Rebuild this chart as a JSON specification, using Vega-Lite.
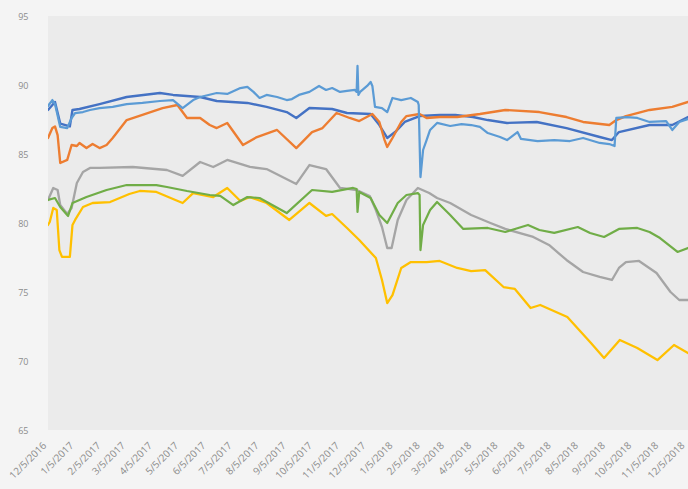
{
  "$schema": "https://vega.github.io/schema/vega-lite/v6.json",
  "width": 640,
  "height": 414,
  "autosize": {"type": "none"},
  "padding": {"left": 48, "top": 16, "right": 0, "bottom": 59},
  "background": "#f4f4f4",
  "config": {
    "view": {"stroke": null, "fill": "#ebebeb"},
    "axis": {"labelFont": "Open Sans", "labelFontSize": 9, "labelColor": "#8c8c8c", "grid": false, "domain": false, "ticks": false, "title": null}
  },
  "data": {"values": [
    {"s":"Series1","d":"2016-12-05","v":88.19},{"s":"Series1","d":"2016-12-13","v":88.77},{"s":"Series1","d":"2016-12-19","v":87.2},{"s":"Series1","d":"2016-12-30","v":87.0},{"s":"Series1","d":"2017-01-02","v":88.19},{"s":"Series1","d":"2017-01-10","v":88.26},{"s":"Series1","d":"2017-02-02","v":88.62},{"s":"Series1","d":"2017-03-05","v":89.13},{"s":"Series1","d":"2017-04-12","v":89.42},{"s":"Series1","d":"2017-04-27","v":89.28},{"s":"Series1","d":"2017-05-28","v":89.13},{"s":"Series1","d":"2017-06-16","v":88.84},{"s":"Series1","d":"2017-07-21","v":88.7},{"s":"Series1","d":"2017-08-12","v":88.41},{"s":"Series1","d":"2017-09-04","v":88.04},{"s":"Series1","d":"2017-09-15","v":87.61},{"s":"Series1","d":"2017-09-30","v":88.33},{"s":"Series1","d":"2017-10-26","v":88.26},{"s":"Series1","d":"2017-11-12","v":87.97},{"s":"Series1","d":"2017-12-09","v":87.9},{"s":"Series1","d":"2017-12-19","v":87.1},{"s":"Series1","d":"2017-12-28","v":86.16},{"s":"Series1","d":"2018-01-06","v":86.59},{"s":"Series1","d":"2018-01-17","v":87.32},{"s":"Series1","d":"2018-02-03","v":87.75},{"s":"Series1","d":"2018-02-26","v":87.83},{"s":"Series1","d":"2018-03-16","v":87.83},{"s":"Series1","d":"2018-04-05","v":87.68},{"s":"Series1","d":"2018-04-22","v":87.46},{"s":"Series1","d":"2018-05-14","v":87.25},{"s":"Series1","d":"2018-06-17","v":87.32},{"s":"Series1","d":"2018-07-21","v":86.88},{"s":"Series1","d":"2018-08-28","v":86.23},{"s":"Series1","d":"2018-09-11","v":86.01},{"s":"Series1","d":"2018-09-19","v":86.59},{"s":"Series1","d":"2018-10-24","v":87.1},{"s":"Series1","d":"2018-11-19","v":87.1},{"s":"Series1","d":"2018-12-07","v":87.68},

    {"s":"Series2","d":"2016-12-05","v":86.16},{"s":"Series2","d":"2016-12-10","v":86.88},{"s":"Series2","d":"2016-12-13","v":87.0},{"s":"Series2","d":"2016-12-16","v":86.37},{"s":"Series2","d":"2016-12-19","v":84.35},{"s":"Series2","d":"2016-12-27","v":84.57},{"s":"Series2","d":"2017-01-01","v":85.65},{"s":"Series2","d":"2017-01-07","v":85.58},{"s":"Series2","d":"2017-01-10","v":85.8},{"s":"Series2","d":"2017-01-18","v":85.43},{"s":"Series2","d":"2017-01-25","v":85.72},{"s":"Series2","d":"2017-02-02","v":85.43},{"s":"Series2","d":"2017-02-10","v":85.65},{"s":"Series2","d":"2017-02-17","v":86.16},{"s":"Series2","d":"2017-03-05","v":87.46},{"s":"Series2","d":"2017-03-23","v":87.83},{"s":"Series2","d":"2017-04-15","v":88.33},{"s":"Series2","d":"2017-05-02","v":88.55},{"s":"Series2","d":"2017-05-13","v":87.61},{"s":"Series2","d":"2017-05-28","v":87.61},{"s":"Series2","d":"2017-06-08","v":87.1},{"s":"Series2","d":"2017-06-16","v":86.88},{"s":"Series2","d":"2017-06-28","v":87.25},{"s":"Series2","d":"2017-07-16","v":85.65},{"s":"Series2","d":"2017-08-01","v":86.23},{"s":"Series2","d":"2017-08-24","v":86.74},{"s":"Series2","d":"2017-09-15","v":85.43},{"s":"Series2","d":"2017-10-03","v":86.59},{"s":"Series2","d":"2017-10-15","v":86.88},{"s":"Series2","d":"2017-10-31","v":87.97},{"s":"Series2","d":"2017-11-15","v":87.61},{"s":"Series2","d":"2017-11-26","v":87.39},{"s":"Series2","d":"2017-12-11","v":87.9},{"s":"Series2","d":"2017-12-19","v":87.32},{"s":"Series2","d":"2017-12-25","v":86.01},{"s":"Series2","d":"2017-12-28","v":85.51},{"s":"Series2","d":"2018-01-03","v":86.16},{"s":"Series2","d":"2018-01-13","v":87.32},{"s":"Series2","d":"2018-01-19","v":87.75},{"s":"Series2","d":"2018-02-03","v":87.9},{"s":"Series2","d":"2018-02-11","v":87.61},{"s":"Series2","d":"2018-02-26","v":87.68},{"s":"Series2","d":"2018-03-18","v":87.68},{"s":"Series2","d":"2018-04-13","v":87.9},{"s":"Series2","d":"2018-05-12","v":88.19},{"s":"Series2","d":"2018-06-20","v":88.04},{"s":"Series2","d":"2018-07-21","v":87.68},{"s":"Series2","d":"2018-08-09","v":87.32},{"s":"Series2","d":"2018-09-08","v":87.1},{"s":"Series2","d":"2018-09-16","v":87.46},{"s":"Series2","d":"2018-09-27","v":87.75},{"s":"Series2","d":"2018-10-24","v":88.19},{"s":"Series2","d":"2018-11-19","v":88.41},{"s":"Series2","d":"2018-12-07","v":88.77},

    {"s":"Series3","d":"2016-12-05","v":81.67},{"s":"Series3","d":"2016-12-11","v":82.54},{"s":"Series3","d":"2016-12-16","v":82.39},{"s":"Series3","d":"2016-12-19","v":81.3},{"s":"Series3","d":"2016-12-27","v":80.65},{"s":"Series3","d":"2017-01-01","v":81.09},{"s":"Series3","d":"2017-01-07","v":82.9},{"s":"Series3","d":"2017-01-14","v":83.7},{"s":"Series3","d":"2017-01-22","v":83.99},{"s":"Series3","d":"2017-02-02","v":83.99},{"s":"Series3","d":"2017-03-12","v":84.06},{"s":"Series3","d":"2017-04-20","v":83.84},{"s":"Series3","d":"2017-05-08","v":83.41},{"s":"Series3","d":"2017-05-28","v":84.42},{"s":"Series3","d":"2017-06-12","v":84.06},{"s":"Series3","d":"2017-06-28","v":84.57},{"s":"Series3","d":"2017-07-24","v":84.06},{"s":"Series3","d":"2017-08-12","v":83.91},{"s":"Series3","d":"2017-09-15","v":82.83},{"s":"Series3","d":"2017-09-30","v":84.2},{"s":"Series3","d":"2017-10-19","v":83.91},{"s":"Series3","d":"2017-11-04","v":82.54},{"s":"Series3","d":"2017-11-23","v":82.39},{"s":"Series3","d":"2017-12-08","v":81.96},{"s":"Series3","d":"2017-12-15","v":80.94},{"s":"Series3","d":"2017-12-22","v":79.71},{"s":"Series3","d":"2017-12-28","v":78.19},{"s":"Series3","d":"2018-01-02","v":78.19},{"s":"Series3","d":"2018-01-09","v":80.22},{"s":"Series3","d":"2018-01-19","v":81.67},{"s":"Series3","d":"2018-02-01","v":82.54},{"s":"Series3","d":"2018-02-14","v":82.17},{"s":"Series3","d":"2018-02-23","v":81.81},{"s":"Series3","d":"2018-03-10","v":81.45},{"s":"Series3","d":"2018-04-03","v":80.58},{"s":"Series3","d":"2018-04-25","v":80.0},{"s":"Series3","d":"2018-05-12","v":79.57},{"s":"Series3","d":"2018-06-13","v":78.99},{"s":"Series3","d":"2018-07-01","v":78.41},{"s":"Series3","d":"2018-07-21","v":77.32},{"s":"Series3","d":"2018-08-09","v":76.45},{"s":"Series3","d":"2018-08-28","v":76.09},{"s":"Series3","d":"2018-09-11","v":75.87},{"s":"Series3","d":"2018-09-19","v":76.74},{"s":"Series3","d":"2018-09-27","v":77.17},{"s":"Series3","d":"2018-10-12","v":77.25},{"s":"Series3","d":"2018-11-01","v":76.38},{"s":"Series3","d":"2018-11-17","v":75.0},{"s":"Series3","d":"2018-11-27","v":74.42},{"s":"Series3","d":"2018-12-07","v":74.42},

    {"s":"Series4","d":"2016-12-05","v":79.86},{"s":"Series4","d":"2016-12-07","v":80.07},{"s":"Series4","d":"2016-12-11","v":81.09},{"s":"Series4","d":"2016-12-15","v":80.94},{"s":"Series4","d":"2016-12-18","v":78.04},{"s":"Series4","d":"2016-12-21","v":77.54},{"s":"Series4","d":"2016-12-30","v":77.54},{"s":"Series4","d":"2017-01-02","v":79.86},{"s":"Series4","d":"2017-01-05","v":80.22},{"s":"Series4","d":"2017-01-14","v":81.16},{"s":"Series4","d":"2017-01-25","v":81.45},{"s":"Series4","d":"2017-02-14","v":81.52},{"s":"Series4","d":"2017-03-08","v":82.1},{"s":"Series4","d":"2017-03-20","v":82.32},{"s":"Series4","d":"2017-04-08","v":82.25},{"s":"Series4","d":"2017-04-27","v":81.74},{"s":"Series4","d":"2017-05-08","v":81.45},{"s":"Series4","d":"2017-05-20","v":82.17},{"s":"Series4","d":"2017-06-12","v":81.88},{"s":"Series4","d":"2017-06-28","v":82.54},{"s":"Series4","d":"2017-07-13","v":81.59},{"s":"Series4","d":"2017-07-24","v":81.88},{"s":"Series4","d":"2017-08-12","v":81.45},{"s":"Series4","d":"2017-09-07","v":80.22},{"s":"Series4","d":"2017-09-30","v":81.45},{"s":"Series4","d":"2017-10-19","v":80.51},{"s":"Series4","d":"2017-10-26","v":80.65},{"s":"Series4","d":"2017-11-12","v":79.64},{"s":"Series4","d":"2017-11-26","v":78.77},{"s":"Series4","d":"2017-12-15","v":77.46},{"s":"Series4","d":"2017-12-22","v":75.87},{"s":"Series4","d":"2017-12-28","v":74.2},{"s":"Series4","d":"2018-01-03","v":74.78},{"s":"Series4","d":"2018-01-13","v":76.74},{"s":"Series4","d":"2018-01-24","v":77.17},{"s":"Series4","d":"2018-02-11","v":77.17},{"s":"Series4","d":"2018-02-26","v":77.25},{"s":"Series4","d":"2018-03-18","v":76.74},{"s":"Series4","d":"2018-04-03","v":76.52},{"s":"Series4","d":"2018-04-19","v":76.59},{"s":"Series4","d":"2018-05-10","v":75.36},{"s":"Series4","d":"2018-05-23","v":75.22},{"s":"Series4","d":"2018-06-10","v":73.84},{"s":"Series4","d":"2018-06-21","v":74.06},{"s":"Series4","d":"2018-07-22","v":73.19},{"s":"Series4","d":"2018-08-18","v":71.3},{"s":"Series4","d":"2018-09-02","v":70.22},{"s":"Series4","d":"2018-09-20","v":71.52},{"s":"Series4","d":"2018-10-10","v":70.94},{"s":"Series4","d":"2018-11-02","v":70.07},{"s":"Series4","d":"2018-11-21","v":71.16},{"s":"Series4","d":"2018-12-07","v":70.58},

    {"s":"Series5","d":"2016-12-05","v":88.48},{"s":"Series5","d":"2016-12-10","v":88.91},{"s":"Series5","d":"2016-12-13","v":88.62},{"s":"Series5","d":"2016-12-19","v":86.96},{"s":"Series5","d":"2016-12-27","v":86.88},{"s":"Series5","d":"2017-01-01","v":87.61},{"s":"Series5","d":"2017-01-05","v":87.97},{"s":"Series5","d":"2017-01-14","v":88.04},{"s":"Series5","d":"2017-01-22","v":88.19},{"s":"Series5","d":"2017-02-02","v":88.33},{"s":"Series5","d":"2017-02-17","v":88.41},{"s":"Series5","d":"2017-03-05","v":88.62},{"s":"Series5","d":"2017-03-23","v":88.7},{"s":"Series5","d":"2017-04-12","v":88.84},{"s":"Series5","d":"2017-04-27","v":88.91},{"s":"Series5","d":"2017-05-08","v":88.33},{"s":"Series5","d":"2017-05-20","v":88.91},{"s":"Series5","d":"2017-05-28","v":89.13},{"s":"Series5","d":"2017-06-16","v":89.42},{"s":"Series5","d":"2017-06-28","v":89.35},{"s":"Series5","d":"2017-07-13","v":89.78},{"s":"Series5","d":"2017-07-21","v":89.86},{"s":"Series5","d":"2017-07-28","v":89.5},{"s":"Series5","d":"2017-08-04","v":89.06},{"s":"Series5","d":"2017-08-12","v":89.28},{"s":"Series5","d":"2017-08-24","v":89.13},{"s":"Series5","d":"2017-09-04","v":88.91},{"s":"Series5","d":"2017-09-10","v":88.98},{"s":"Series5","d":"2017-09-18","v":89.28},{"s":"Series5","d":"2017-09-30","v":89.5},{"s":"Series5","d":"2017-10-11","v":89.93},{"s":"Series5","d":"2017-10-19","v":89.64},{"s":"Series5","d":"2017-10-26","v":89.78},{"s":"Series5","d":"2017-11-04","v":89.5},{"s":"Series5","d":"2017-11-12","v":89.57},{"s":"Series5","d":"2017-11-21","v":89.64},{"s":"Series5","d":"2017-11-23","v":89.5},{"s":"Series5","d":"2017-11-24","v":91.38},{"s":"Series5","d":"2017-11-25","v":89.28},{"s":"Series5","d":"2017-11-27","v":89.5},{"s":"Series5","d":"2017-12-05","v":89.93},{"s":"Series5","d":"2017-12-09","v":90.22},{"s":"Series5","d":"2017-12-11","v":89.93},{"s":"Series5","d":"2017-12-14","v":88.41},{"s":"Series5","d":"2017-12-22","v":88.33},{"s":"Series5","d":"2017-12-28","v":88.04},{"s":"Series5","d":"2018-01-03","v":89.06},{"s":"Series5","d":"2018-01-13","v":88.91},{"s":"Series5","d":"2018-01-24","v":89.06},{"s":"Series5","d":"2018-02-01","v":88.77},{"s":"Series5","d":"2018-02-02","v":88.55},{"s":"Series5","d":"2018-02-04","v":83.33},{"s":"Series5","d":"2018-02-07","v":85.29},{"s":"Series5","d":"2018-02-11","v":86.01},{"s":"Series5","d":"2018-02-15","v":86.74},{"s":"Series5","d":"2018-02-23","v":87.25},{"s":"Series5","d":"2018-03-10","v":87.03},{"s":"Series5","d":"2018-03-23","v":87.17},{"s":"Series5","d":"2018-04-03","v":87.1},{"s":"Series5","d":"2018-04-13","v":86.96},{"s":"Series5","d":"2018-04-22","v":86.52},{"s":"Series5","d":"2018-05-06","v":86.23},{"s":"Series5","d":"2018-05-14","v":86.01},{"s":"Series5","d":"2018-05-26","v":86.59},{"s":"Series5","d":"2018-05-30","v":86.09},{"s":"Series5","d":"2018-06-18","v":85.94},{"s":"Series5","d":"2018-07-07","v":86.01},{"s":"Series5","d":"2018-07-25","v":85.94},{"s":"Series5","d":"2018-08-09","v":86.16},{"s":"Series5","d":"2018-08-28","v":85.8},{"s":"Series5","d":"2018-09-08","v":85.72},{"s":"Series5","d":"2018-09-14","v":85.58},{"s":"Series5","d":"2018-09-16","v":87.61},{"s":"Series5","d":"2018-09-28","v":87.68},{"s":"Series5","d":"2018-10-10","v":87.61},{"s":"Series5","d":"2018-10-24","v":87.32},{"s":"Series5","d":"2018-11-12","v":87.39},{"s":"Series5","d":"2018-11-19","v":86.74},{"s":"Series5","d":"2018-11-27","v":87.32},{"s":"Series5","d":"2018-12-07","v":87.54},

    {"s":"Series6","d":"2016-12-05","v":81.67},{"s":"Series6","d":"2016-12-13","v":81.81},{"s":"Series6","d":"2016-12-19","v":81.16},{"s":"Series6","d":"2016-12-28","v":80.51},{"s":"Series6","d":"2017-01-02","v":81.45},{"s":"Series6","d":"2017-01-18","v":81.88},{"s":"Series6","d":"2017-02-10","v":82.39},{"s":"Series6","d":"2017-03-05","v":82.75},{"s":"Series6","d":"2017-04-08","v":82.75},{"s":"Series6","d":"2017-04-20","v":82.61},{"s":"Series6","d":"2017-05-13","v":82.32},{"s":"Series6","d":"2017-06-08","v":82.03},{"s":"Series6","d":"2017-06-20","v":81.96},{"s":"Series6","d":"2017-07-05","v":81.3},{"s":"Series6","d":"2017-07-21","v":81.88},{"s":"Series6","d":"2017-08-04","v":81.81},{"s":"Series6","d":"2017-09-04","v":80.72},{"s":"Series6","d":"2017-10-03","v":82.39},{"s":"Series6","d":"2017-10-26","v":82.25},{"s":"Series6","d":"2017-11-19","v":82.54},{"s":"Series6","d":"2017-11-23","v":82.46},{"s":"Series6","d":"2017-11-24","v":80.8},{"s":"Series6","d":"2017-11-26","v":82.25},{"s":"Series6","d":"2017-12-09","v":81.81},{"s":"Series6","d":"2017-12-19","v":80.58},{"s":"Series6","d":"2017-12-28","v":80.0},{"s":"Series6","d":"2018-01-09","v":81.45},{"s":"Series6","d":"2018-01-19","v":82.03},{"s":"Series6","d":"2018-02-01","v":82.17},{"s":"Series6","d":"2018-02-03","v":82.03},{"s":"Series6","d":"2018-02-04","v":78.04},{"s":"Series6","d":"2018-02-07","v":79.86},{"s":"Series6","d":"2018-02-15","v":80.94},{"s":"Series6","d":"2018-02-23","v":81.52},{"s":"Series6","d":"2018-03-10","v":80.58},{"s":"Series6","d":"2018-03-25","v":79.57},{"s":"Series6","d":"2018-04-22","v":79.64},{"s":"Series6","d":"2018-05-12","v":79.35},{"s":"Series6","d":"2018-06-07","v":79.86},{"s":"Series6","d":"2018-06-20","v":79.49},{"s":"Series6","d":"2018-07-07","v":79.28},{"s":"Series6","d":"2018-08-03","v":79.71},{"s":"Series6","d":"2018-08-17","v":79.28},{"s":"Series6","d":"2018-09-02","v":78.99},{"s":"Series6","d":"2018-09-19","v":79.57},{"s":"Series6","d":"2018-10-10","v":79.64},{"s":"Series6","d":"2018-10-24","v":79.35},{"s":"Series6","d":"2018-11-05","v":78.91},{"s":"Series6","d":"2018-11-25","v":77.9},{"s":"Series6","d":"2018-12-07","v":78.19}
  ]},
  "mark": {"type": "line", "strokeJoin": "round", "strokeCap": "round", "clip": true},
  "encoding": {
    "x": {
      "field": "d", "type": "temporal",
      "scale": {"type": "utc", "domain": [{"year": 2016, "month": 12, "date": 5, "utc": true}, {"year": 2018, "month": 12, "date": 7, "utc": true}]},
      "axis": {
        "format": "%-m/%-d/%Y", "labelAngle": -45, "labelAlign": "right", "labelBaseline": "bottom", "labelPadding": 17, "labelFontSize": 10, "labelOverlap": false, "labelFlush": false,
        "values": [
          {"year":2016,"month":12,"date":5,"utc":true},{"year":2017,"month":1,"date":5,"utc":true},{"year":2017,"month":2,"date":5,"utc":true},{"year":2017,"month":3,"date":5,"utc":true},{"year":2017,"month":4,"date":5,"utc":true},{"year":2017,"month":5,"date":5,"utc":true},{"year":2017,"month":6,"date":5,"utc":true},{"year":2017,"month":7,"date":5,"utc":true},{"year":2017,"month":8,"date":5,"utc":true},{"year":2017,"month":9,"date":5,"utc":true},{"year":2017,"month":10,"date":5,"utc":true},{"year":2017,"month":11,"date":5,"utc":true},{"year":2017,"month":12,"date":5,"utc":true},
          {"year":2018,"month":1,"date":5,"utc":true},{"year":2018,"month":2,"date":5,"utc":true},{"year":2018,"month":3,"date":5,"utc":true},{"year":2018,"month":4,"date":5,"utc":true},{"year":2018,"month":5,"date":5,"utc":true},{"year":2018,"month":6,"date":5,"utc":true},{"year":2018,"month":7,"date":5,"utc":true},{"year":2018,"month":8,"date":5,"utc":true},{"year":2018,"month":9,"date":5,"utc":true},{"year":2018,"month":10,"date":5,"utc":true},{"year":2018,"month":11,"date":5,"utc":true},{"year":2018,"month":12,"date":5,"utc":true}
        ]
      }
    },
    "y": {
      "field": "v", "type": "quantitative",
      "scale": {"domain": [65, 95], "nice": false, "zero": false},
      "axis": {"values": [65, 70, 75, 80, 85, 90, 95], "labelPadding": 20}
    },
    "color": {
      "field": "s", "type": "nominal", "legend": null,
      "scale": {"domain": ["Series1", "Series2", "Series3", "Series4", "Series5", "Series6"], "range": ["#4472C4", "#ED7D31", "#A5A5A5", "#FFC000", "#5B9BD5", "#70AD47"]}
    },
    "strokeWidth": {
      "field": "s", "type": "nominal", "legend": null,
      "scale": {"domain": ["Series1", "Series2", "Series3", "Series4", "Series5", "Series6"], "range": [2.4, 2.2, 2.2, 2.2, 1.6, 2.2]}
    }
  }
}
